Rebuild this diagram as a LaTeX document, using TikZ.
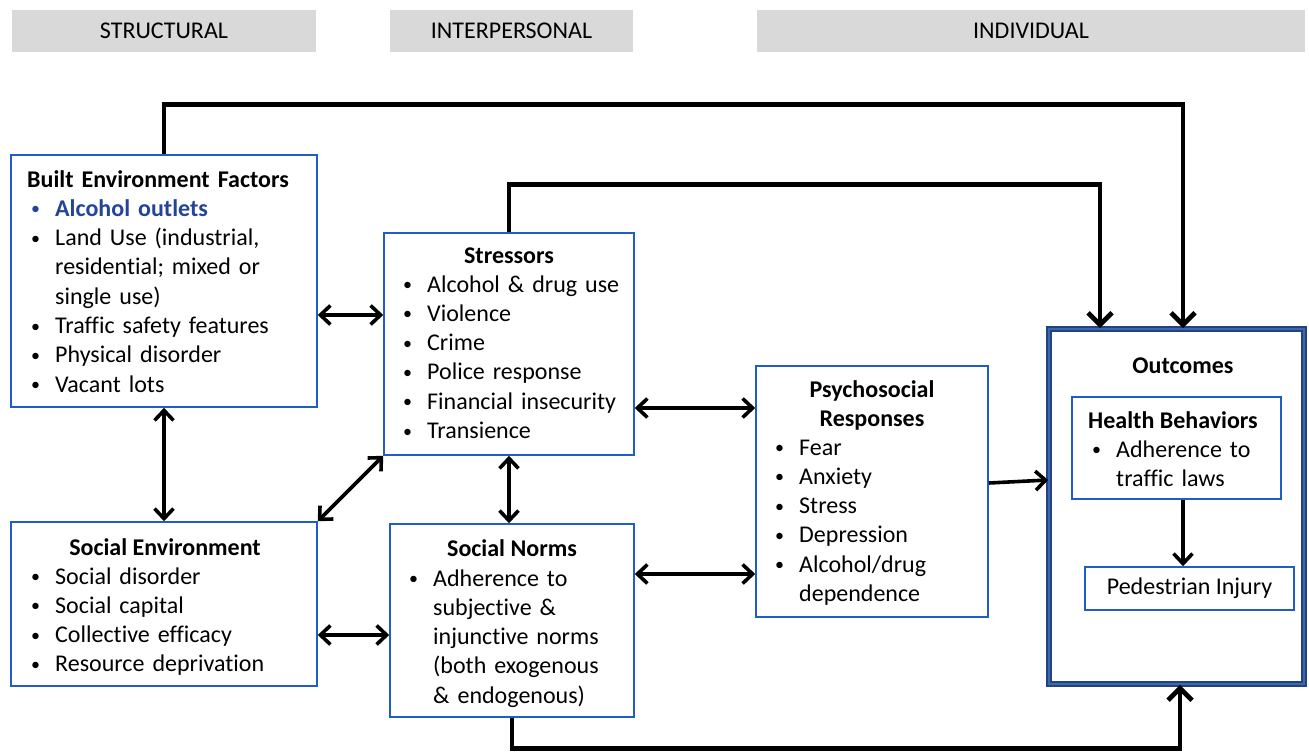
\documentclass[tikz,border=0pt]{standalone}
\usepackage{fontspec}
\setmainfont{Carlito}[Ligatures=NoCommon]
\usetikzlibrary{arrows.meta}
\definecolor{boxblue}{HTML}{1F5FC4}
\definecolor{darkblue}{HTML}{23437F}
\definecolor{midblue}{HTML}{3E67B1}
\definecolor{hdrgray}{HTML}{D9D9D9}
\definecolor{alcblue}{HTML}{24449A}
\newcommand{\bs}{\noindent\makebox[28pt][l]{\hspace{4pt}\raisebox{1.5pt}{\fontsize{18}{18}\selectfont\textbullet}}}
\newcommand{\bi}{\par\bs}
\newcommand{\cl}{\par\noindent\hspace*{28pt}}
\tikzset{
  box/.style={draw=boxblue, line width=1.6pt, rectangle, inner sep=0pt, fill=white},
  hdr/.style={fill=hdrgray, rectangle, inner sep=0pt, minimum height=42, font=\fontsize{24}{28}\selectfont},
  txt/.style={inner sep=0pt, align=left, font=\fontsize{24}{29.3}\selectfont},
  ttl/.style={inner sep=0pt, font=\fontsize{24}{29.3}\selectfont\bfseries},
  bigarrow/.style={line width=4.8pt, -{Straight Barb[length=12pt,width=24pt]}},
  dbl/.style={line width=3.6pt, {Straight Barb[length=10pt,width=19pt]}-{Straight Barb[length=10pt,width=19pt]}},
  sglarrow/.style={line width=3.6pt, -{Straight Barb[length=10pt,width=19pt]}}
}
\begin{document}
\begin{tikzpicture}[x=1pt,y=-1pt]
\useasboundingbox (0,0) rectangle (1309,752);
% headers
\node[hdr, minimum width=304] (h1) at (164,31) {STRUCTURAL};
\node[hdr, minimum width=243] (h2) at (511.5,31) {INTERPERSONAL};
\node[hdr, minimum width=548] (h3) at (1031,31) {INDIVIDUAL};
% boxes
\node[box, minimum width=306, minimum height=252] (built) at (164,281) {};
\node[box, minimum width=306, minimum height=164] (socenv) at (164,604) {};
\node[box, minimum width=250, minimum height=222] (stress) at (509,344) {};
\node[box, minimum width=244, minimum height=193] (norms) at (512,620.5) {};
\node[box, minimum width=232, minimum height=251] (psych) at (872,491.5) {};
\node[draw=darkblue, line width=1.7pt, double=midblue, double distance=2.4pt, rectangle, inner sep=0pt, minimum width=255, minimum height=355] (outc) at (1176.5,506.5) {};
\node[box, minimum width=209, minimum height=102] (health) at (1176.5,448) {};
\node[box, minimum width=209, minimum height=43, font=\fontsize{24}{28}\selectfont] (ped) at (1189.5,588.5) {Pedestrian Injury};
% texts
\node[txt, anchor=base west, text width=285] (builttxt) at (27,187) {\textbf{Built Environment Factors}\par{\color{alcblue}\bs\textbf{Alcohol outlets}\par}\bs Land Use (industrial,\cl residential; mixed or\cl single use)\bi Traffic safety features\bi Physical disorder\bi Vacant lots};
\node[ttl, anchor=base] (stressttl) at (509,263) {Stressors};
\node[txt, anchor=base west, text width=235] (stresstxt) at (399,292) {\bs Alcohol \& drug use\bi Violence\bi Crime\bi Police response\bi Financial insecurity\bi Transience};
\node[ttl, anchor=base] (socttl) at (165,555) {Social Environment};
\node[txt, anchor=base west, text width=285] (soctxt) at (27,584) {\bs Social disorder\bi Social capital\bi Collective efficacy\bi Resource deprivation};
\node[ttl, anchor=base] (normsttl) at (512,556) {Social Norms};
\node[txt, anchor=base west, text width=225] (normstxt) at (405,586) {\bs Adherence to\cl subjective \&\cl injunctive norms\cl (both exogenous\cl \& endogenous)};
\node[ttl, anchor=base, text width=220, align=center] (psychttl) at (872,397) {Psychosocial\\Responses};
\node[txt, anchor=base west, text width=210] (psychtxt) at (771,455) {\bs Fear\bi Anxiety\bi Stress\bi Depression\bi Alcohol/drug\cl dependence};
\node[ttl, anchor=base] (outcttl) at (1183,373) {Outcomes};
\node[ttl, anchor=base west] (healthttl) at (1088,428) {Health Behaviors};
\node[txt, anchor=base west, text width=185] (healthtxt) at (1088,457) {\bs Adherence to\cl traffic laws};
% long connectors
\draw[bigarrow] (built.north) -- ++(0,-50) -| ([xshift=6.5pt]outc.north);
\draw[bigarrow] (stress.north) -- ++(0,-48) -| ([xshift=-76.5pt]outc.north);
\draw[bigarrow] (norms.south) -- ++(0,31) -| ([xshift=3.5pt]outc.south);
% double arrows
\draw[dbl] (built.east |- 0,315) -- (stress.west |- 0,315);
\draw[dbl] (built.south) -- (socenv.north);
\draw[dbl] (socenv.north east) -- (stress.south west);
\draw[dbl] (stress.south) -- (stress.south |- norms.north);
\draw[dbl] (socenv.east |- 0,635) -- (norms.west |- 0,635);
\draw[dbl] (stress.east |- 0,408) -- (psych.west |- 0,408);
\draw[dbl] (norms.east |- 0,574) -- (psych.west |- 0,574);
\draw[sglarrow] (psych.east |- 0,483) -- (outc.west |- 0,480);
\draw[sglarrow] (health.south -| 1183,0) -- (ped.north -| 1183,0);
\end{tikzpicture}
\end{document}
